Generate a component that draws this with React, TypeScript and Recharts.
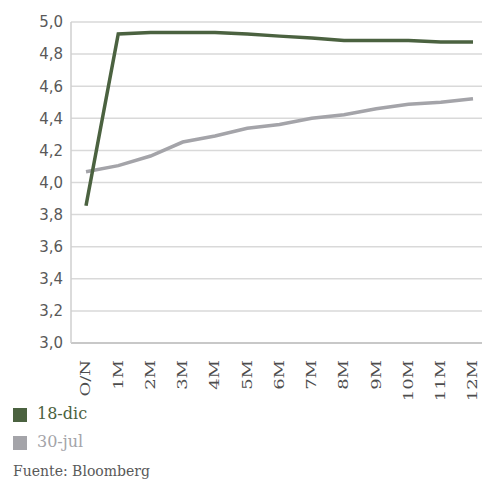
import React from 'react';
import { LineChart, Line, XAxis, YAxis, CartesianGrid } from 'recharts';

const categories = ['O/N', '1M', '2M', '3M', '4M', '5M', '6M', '7M', '8M', '9M', '10M', '11M', '12M'];
const dic18 = [3.855, 4.925, 4.935, 4.935, 4.935, 4.925, 4.912, 4.9, 4.885, 4.885, 4.885, 4.875, 4.875];
const jul30 = [4.067, 4.105, 4.165, 4.252, 4.29, 4.338, 4.362, 4.4, 4.422, 4.46, 4.487, 4.5, 4.522];
const yTicks = [3.0, 3.2, 3.4, 3.6, 3.8, 4.0, 4.2, 4.4, 4.6, 4.8, 5.0];

const seriesNames = ['18-dic', '30-jul'];
const GREEN = '#4b6240';
const GRAY = '#a4a4a9';

const data = categories.map((c, i) => ({ cat: c, dic: dic18[i], jul: jul30[i] }));

const XTick = (props: any) => {
  const { x, y, payload } = props;
  return (
    <g transform={`translate(${x},${y + 9}) rotate(-90) scale(1.5,1)`}>
      <text x={0} y={0} dy="0.36em" textAnchor="end" fontFamily="'DejaVu Serif', serif" fontSize={12} fill="#4d4d4d">
        {payload.value}
      </text>
    </g>
  );
};

export default function App() {
  return (
    <div style={{ position: 'absolute', left: 0, top: 0, width: 482, height: 479, background: '#fff' }}>
      <LineChart width={482} height={405} data={data} margin={{ top: 22, right: 0, bottom: 0, left: 0 }}>
        <CartesianGrid vertical={false} stroke="#d9d9d9" strokeWidth={1.5} />
        <XAxis
          dataKey="cat"
          interval={0}
          height={62}
          padding={{ left: 15, right: 9 }}
          tickLine={false}
          axisLine={{ stroke: '#c8c8c8', strokeWidth: 2 }}
          tick={<XTick />}
        />
        <YAxis
          width={71}
          domain={[3, 5]}
          ticks={yTicks}
          interval={0}
          tickLine={false}
          axisLine={{ stroke: '#cfcfcf', strokeWidth: 1.5 }}
          tickFormatter={(v: number) => v.toFixed(1).replace('.', ',')}
          tick={{ fill: '#595959', fontSize: 15, fontFamily: "'DejaVu Sans', sans-serif" }}
        />
        <Line type="linear" dataKey="jul" stroke={GRAY} strokeWidth={3.5} dot={false} isAnimationActive={false} />
        <Line type="linear" dataKey="dic" stroke={GREEN} strokeWidth={3.5} dot={false} isAnimationActive={false} />
      </LineChart>
      <div style={{ position: 'absolute', left: 13, top: 408, width: 14, height: 14, background: GREEN }} />
      <div style={{ position: 'absolute', left: 37, top: 404, fontFamily: "'DejaVu Serif', serif", fontSize: 16, color: GREEN, lineHeight: '20px' }}>
        {seriesNames[0]}
      </div>
      <div style={{ position: 'absolute', left: 13, top: 436, width: 14, height: 14, background: GRAY }} />
      <div style={{ position: 'absolute', left: 37, top: 432, fontFamily: "'DejaVu Serif', serif", fontSize: 16, color: GRAY, lineHeight: '20px' }}>
        {seriesNames[1]}
      </div>
      <div style={{ position: 'absolute', left: 13, top: 462, fontFamily: "'DejaVu Serif', serif", fontSize: 14, color: '#595959', lineHeight: '18px' }}>
        Fuente: Bloomberg
      </div>
    </div>
  );
}
